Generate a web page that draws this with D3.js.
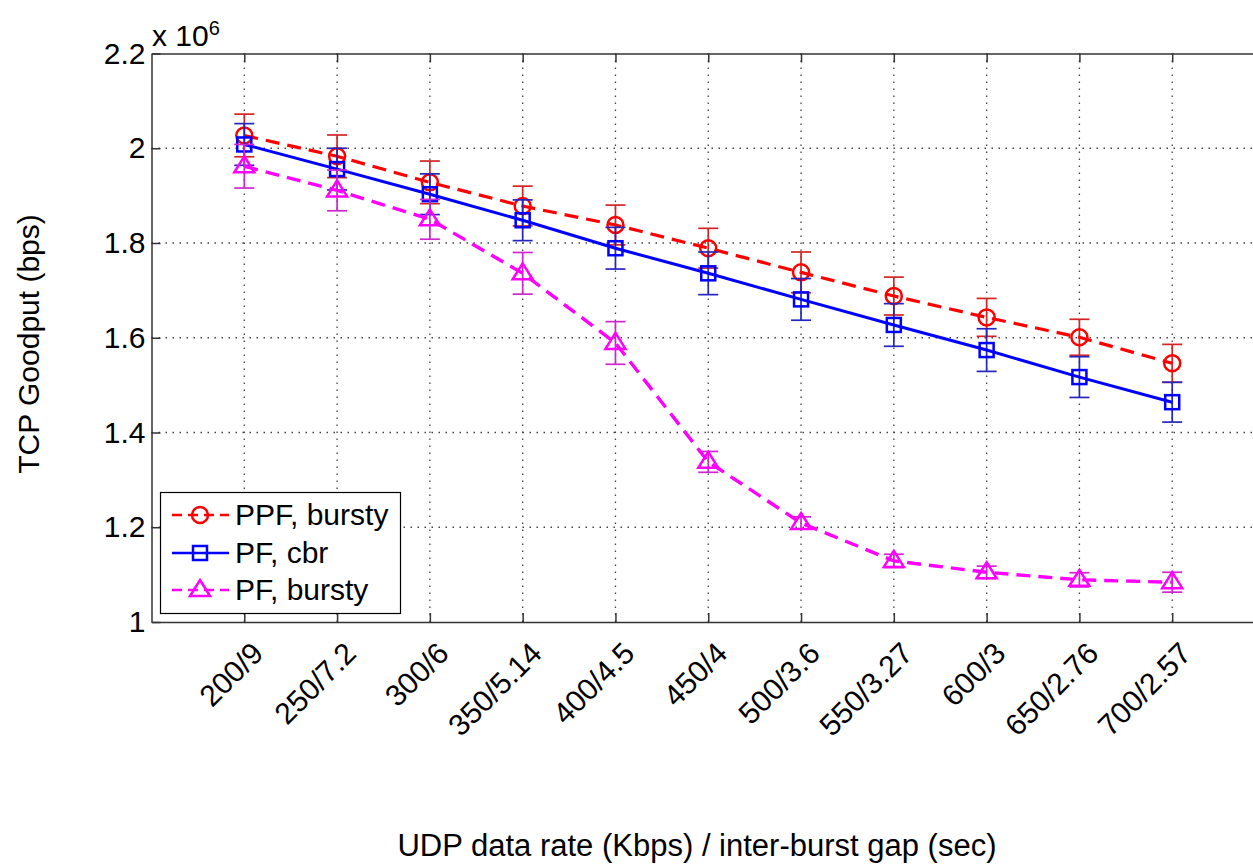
<!DOCTYPE html>
<html>
<head>
<meta charset="utf-8">
<title>TCP Goodput</title>
<style>
  body { margin: 0; background: #fff; }
  svg { display: block; font-family: "Liberation Sans", Arial, sans-serif; }
  .axis path, .axis line { stroke: #333; stroke-width: 1.5; fill: none; }
  .axis text { font-size: 30px; fill: #000; font-family: "Liberation Sans", Arial, sans-serif; }
  .grid line { stroke: #444; stroke-width: 1.3; stroke-dasharray: 1.5,5.5; }
</style>
</head>
<body>
<script src="https://cdnjs.cloudflare.com/ajax/libs/d3/7.8.5/d3.min.js"></script>
<script>
// x categories (UDP rate / inter-burst gap)
var categories = ["200/9", "250/7.2", "300/6", "350/5.14", "400/4.5", "450/4",
                  "500/3.6", "550/3.27", "600/3", "650/2.76", "700/2.57"];
var yTicks = [1, 1.2, 1.4, 1.6, 1.8, 2, 2.2];

// goodput in units of 10^6 bps
var ppfBursty    = [2.027, 1.983, 1.928, 1.878, 1.838, 1.789, 1.738, 1.688, 1.643, 1.601, 1.546];
var ppfBurstyErr = [0.045, 0.045, 0.045, 0.042, 0.042, 0.042, 0.043, 0.040, 0.040, 0.038, 0.040];
var pfCbr        = [2.008, 1.956, 1.903, 1.848, 1.789, 1.736, 1.681, 1.627, 1.574, 1.517, 1.464];
var pfCbrErr     = [0.044, 0.044, 0.043, 0.043, 0.044, 0.045, 0.044, 0.045, 0.045, 0.043, 0.042];
var pfBursty     = [1.962, 1.911, 1.850, 1.736, 1.589, 1.338, 1.209, 1.129, 1.105, 1.089, 1.084];
var pfBurstyErr  = [0.046, 0.043, 0.042, 0.044, 0.045, 0.022, 0.013, 0.014, 0.013, 0.015, 0.021];

var series = [
  {name: "PPF, bursty", values: ppfBursty, err: ppfBurstyErr, color: "#ff0000", ecolor: "#d42525", marker: "circle", dash: "14,8", width: 3.2},
  {name: "PF, cbr", values: pfCbr, err: pfCbrErr, color: "#0000ff", ecolor: "#2525c0", marker: "square", dash: null, width: 3},
  {name: "PF, bursty", values: pfBursty, err: pfBurstyErr, color: "#ff00ff", ecolor: "#d025d0", marker: "triangle", dash: "14,8", width: 3.4}
];

var W = 1253, H = 866;
var pLeft = 151.5, pRight = 1265, pTop = 53.5, pBottom = 622;

var svg = d3.select("body").append("svg")
  .attr("width", W).attr("height", H);
svg.append("rect").attr("width", W).attr("height", H).attr("fill", "#fff");

var x = d3.scaleLinear().domain([0, 12]).range([pLeft, pRight]);
var y = d3.scaleLinear().domain([1, 2.2]).range([pBottom, pTop]);
var idx = d3.range(1, categories.length + 1);

// grid
var grid = svg.append("g").attr("class", "grid");
grid.selectAll(".gx").data(idx).enter().append("line")
  .attr("x1", function(d){ return x(d); }).attr("x2", function(d){ return x(d); })
  .attr("y1", pTop).attr("y2", pBottom);
grid.selectAll(".gy").data(yTicks.slice(1, -1)).enter().append("line")
  .attr("x1", pLeft).attr("x2", pRight)
  .attr("y1", function(d){ return y(d); }).attr("y2", function(d){ return y(d); });

// axes
svg.append("g").attr("class", "axis")
  .attr("transform", "translate(" + pLeft + ",0)")
  .call(d3.axisLeft(y).tickValues(yTicks).tickSizeInner(-9).tickSizeOuter(0).tickPadding(6)
    .tickFormat(function(d){ return String(+d.toFixed(1)); }));

var xAxis = svg.append("g").attr("class", "axis")
  .attr("transform", "translate(0," + pBottom + ")")
  .call(d3.axisBottom(x).tickValues(idx).tickSizeInner(-9).tickSizeOuter(0)
    .tickFormat(function(d){ return categories[d - 1]; }));
xAxis.selectAll("text")
  .attr("x", 0).attr("y", 0).attr("dy", "0.72em")
  .attr("text-anchor", "end")
  .attr("transform", "translate(5,18) rotate(-45)");

svg.append("g").attr("class", "axis")
  .attr("transform", "translate(0," + pTop + ")")
  .call(d3.axisTop(x).tickValues(idx).tickSizeInner(-9).tickSizeOuter(0).tickFormat(""));

// multiplier
var mult = svg.append("text").attr("x", 152).attr("y", 46)
  .attr("font-size", "30px").text("x 10");
mult.append("tspan").attr("font-size", "20px").attr("dy", -11).text("6");

// axis labels
svg.append("text")
  .attr("transform", "translate(39,344) rotate(-90)")
  .attr("text-anchor", "middle").attr("font-size", "30px")
  .text("TCP Goodput (bps)");
svg.append("text")
  .attr("x", 697).attr("y", 856)
  .attr("text-anchor", "middle").attr("font-size", "31px")
  .text("UDP data rate (Kbps) / inter-burst gap (sec)");

function drawMarker(g, type, cx, cy, color) {
  if (type === "circle") {
    g.append("circle").attr("cx", cx).attr("cy", cy).attr("r", 8)
      .attr("fill", "none").attr("stroke", color).attr("stroke-width", 2.5);
  } else if (type === "square") {
    g.append("rect").attr("x", cx - 7).attr("y", cy - 7).attr("width", 14).attr("height", 14)
      .attr("fill", "none").attr("stroke", color).attr("stroke-width", 2.5);
  } else {
    g.append("path")
      .attr("d", "M" + cx + "," + (cy - 10) + "L" + (cx + 10) + "," + (cy + 6) + "L" + (cx - 10) + "," + (cy + 6) + "Z")
      .attr("fill", "none").attr("stroke", color).attr("stroke-width", 2.5);
  }
}

var line = d3.line()
  .x(function(d, i){ return x(i + 1); })
  .y(function(d){ return y(d); });

series.forEach(function(s) {
  var g = svg.append("g");
  // error bars
  s.values.forEach(function(v, i) {
    var cx = x(i + 1), y0 = y(v - s.err[i]), y1 = y(v + s.err[i]);
    g.append("line").attr("x1", cx).attr("x2", cx).attr("y1", y0).attr("y2", y1)
      .attr("stroke", s.ecolor).attr("stroke-width", 1.7);
    [y0, y1].forEach(function(yy) {
      g.append("line").attr("x1", cx - 10).attr("x2", cx + 10).attr("y1", yy).attr("y2", yy)
        .attr("stroke", s.ecolor).attr("stroke-width", 1.7);
    });
  });
  g.append("path").datum(s.values)
    .attr("d", line).attr("fill", "none")
    .attr("stroke", s.color).attr("stroke-width", s.width)
    .attr("stroke-dasharray", s.dash);
  s.values.forEach(function(v, i) { drawMarker(g, s.marker, x(i + 1), y(v), s.color); });
});

// legend
var lg = svg.append("g");
lg.append("rect").attr("x", 160.5).attr("y", 492.5).attr("width", 240).attr("height", 121)
  .attr("fill", "#fff").attr("stroke", "#000").attr("stroke-width", 1.2);
var rows = [515, 553, 590];
series.forEach(function(s, i) {
  var ry = rows[i];
  lg.append("line").attr("x1", 172).attr("x2", 229).attr("y1", ry).attr("y2", ry)
    .attr("stroke", s.color).attr("stroke-width", 2.5)
    .attr("stroke-dasharray", s.dash ? "10,6" : null);
  drawMarker(lg, s.marker, 200, ry, s.color);
  lg.append("text").attr("x", 235).attr("y", ry + 10).attr("font-size", "30px").text(s.name);
});
</script>
</body>
</html>
